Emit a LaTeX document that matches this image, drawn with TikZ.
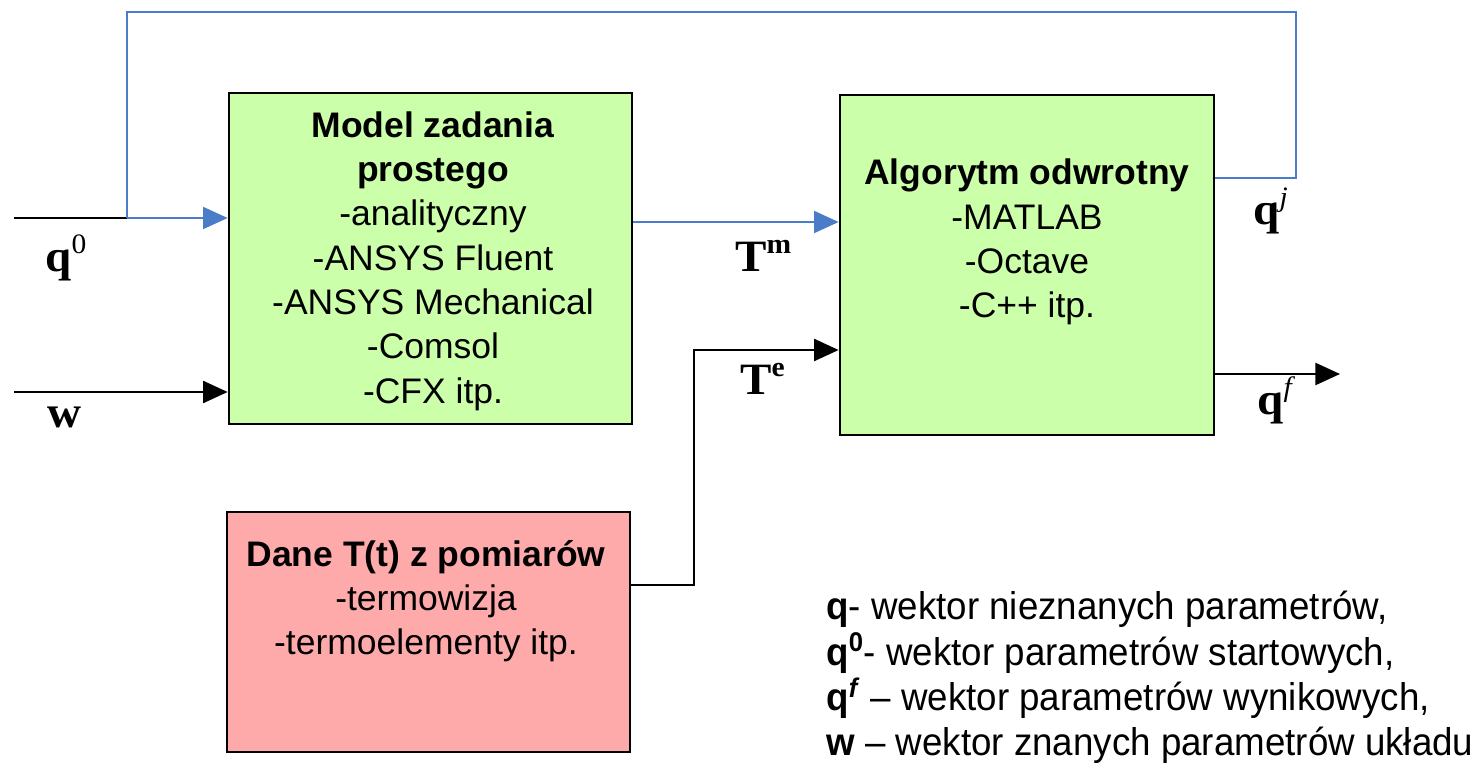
\documentclass[tikz,border=0pt]{standalone}
\usepackage{fontspec}
\setmainfont{Liberation Sans}
\newfontfamily\legendfont{Liberation Sans}[FakeStretch=0.95]
\newfontfamily\tnr{Liberation Serif}[FakeStretch=1.05]
\usetikzlibrary{arrows.meta}
\definecolor{boxgreen}{RGB}{204,255,170}
\definecolor{boxred}{RGB}{255,170,170}
\definecolor{fbblue}{RGB}{74,124,200}
\newcommand\supx[1]{\raisebox{0.42em}{\fontsize{16}{16}\selectfont #1}}
\begin{document}
\begin{tikzpicture}[x=0.02cm,y=-0.02cm,
  gbox/.style={draw=black,line width=1.6pt,fill=boxgreen,inner sep=0},
  rbox/.style={draw=black,line width=1.6pt,fill=boxred,inner sep=0},
  boxtext/.style={align=center,inner sep=0,font=\fontsize{20.2}{25.2}\selectfont},
  conn/.style={draw=black,line width=1.4pt},
  arr/.style={conn,-{Triangle[length=14pt,width=12.5pt]}},
  bconn/.style={draw=fbblue,line width=1.2pt},
  barr/.style={bconn,-{Triangle[length=14pt,width=12.5pt]}},
  lbl/.style={inner sep=0,font=\tnr\fontsize{25.5}{30}\selectfont}]
\useasboundingbox (0,0) rectangle (1484,763);

% blocks
\node[gbox,minimum width=8.06cm,minimum height=6.62cm] (model) at (430.5,258.5) {};
\node[gbox,minimum width=7.48cm,minimum height=6.8cm] (alg) at (1027,265) {};
\node[rbox,minimum width=8.06cm,minimum height=4.8cm] (dane) at (428.5,632) {};

\node[boxtext] (modeltxt) at (433,261) {\textbf{Model zadania}\\\textbf{prostego}\\-analityczny\\-ANSYS Fluent\\-ANSYS Mechanical\\-Comsol\\-CFX itp.};
\node[boxtext] (algtxt) at (1027,242) {\textbf{Algorytm odwrotny}\\-MATLAB\\-Octave\\-C++ itp.};
\node[boxtext] (danetxt) at (426,601) {\textbf{Dane T(t) z pomiarów}\\-termowizja\\-termoelementy itp.};

% helper coordinates
\coordinate (q0in) at (14,218);
\coordinate (split) at (127,218);
\coordinate (fbtopl) at (127,12);
\coordinate (fbtopr) at (1296,12);
\coordinate (fbright) at (1296,178);
\coordinate (fby) at (0,178);
\coordinate (tmy) at (0,222);
\coordinate (win) at (14,392);
\coordinate (tey) at (0,585);
\coordinate (tecorner1) at (694,585);
\coordinate (tecorner2) at (694,350);
\coordinate (qfy) at (0,374);
\coordinate (qfend) at (1340,374);

% connectors
\draw[conn] (q0in) -- (split);
\draw[bconn] (alg.east |- fby) -- (fbright) -- (fbtopr) -- (fbtopl) -- (split);
\draw[barr] (split) -- (model.west |- split);
\draw[barr] (model.east |- tmy) -- (alg.west |- tmy);
\draw[arr] (win) -- (model.west |- win);
\draw[arr] (dane.east |- tey) -- (tecorner1) -- (tecorner2) -- (alg.west |- tecorner2);
\draw[arr] (alg.east |- qfy) -- (qfend);

% labels
\node[lbl,anchor=base west] (lq0) at (45,272) {\textbf{q}\supx{0}};
\node[lbl,anchor=base west] (lw) at (47,427) {\textbf{w}};
\node[lbl,anchor=base west] (ltm) at (735,272) {\textbf{T}\supx{\textbf{m}}};
\node[lbl,anchor=base west] (lte) at (740,395) {\textbf{T}\supx{\textbf{e}}};
\node[lbl,anchor=base west] (lqj) at (1253,225) {\textbf{q}\supx{\textit{j}}};
\node[lbl,anchor=base west] (lqf) at (1257,415) {\textbf{q}\supx{\textit{f}}};

% legend
\node[anchor=north west,align=left,inner sep=0,font=\legendfont\fontsize{22}{25.8}\selectfont] (legend) at (826,591)
  {\textbf{q}- wektor nieznanych parametrów,\\
   \textbf{q\textsuperscript{0}}- wektor parametrów startowych,\\
   \textbf{q}\textsuperscript{\textbf{\textit{f}}} – wektor parametrów wynikowych,\\
   \textbf{w} – wektor znanych parametrów układu};
\end{tikzpicture}
\end{document}
